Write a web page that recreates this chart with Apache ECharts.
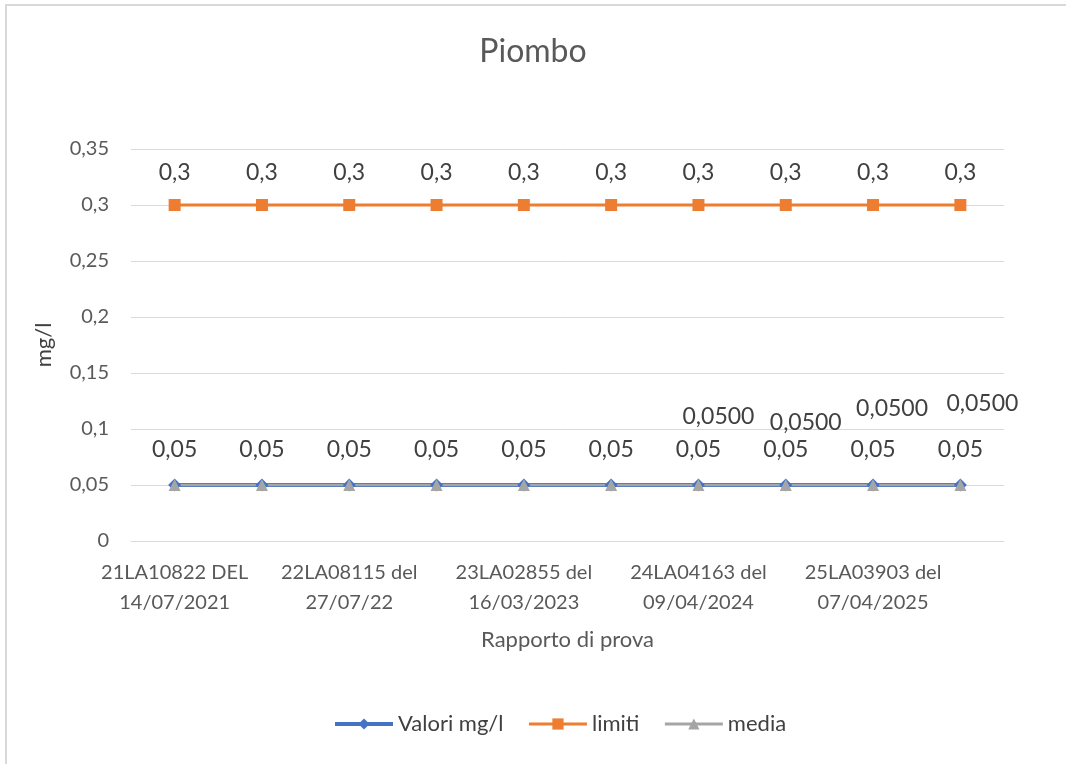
<!DOCTYPE html>
<html>
<head>
<meta charset="utf-8">
<script src="https://cdn.jsdelivr.net/npm/echarts@6/dist/echarts.min.js"></script>
<style>
  html, body { margin: 0; padding: 0; background: #fff; }
  #chart { width: 1066px; height: 764px; }
</style>
</head>
<body>
<div id="chart"></div>
<script>
// dati del grafico
const categorie = [
  '21LA10822 DEL\n14/07/2021', '',
  '22LA08115 del\n27/07/22', '',
  '23LA02855 del\n16/03/2023', '',
  '24LA04163 del\n09/04/2024', '',
  '25LA03903 del\n07/04/2025', ''
];
const valori = [0.05, 0.05, 0.05, 0.05, 0.05, 0.05, 0.05, 0.05, 0.05, 0.05];
const limiti = [0.3, 0.3, 0.3, 0.3, 0.3, 0.3, 0.3, 0.3, 0.3, 0.3];
const media = [0.05, 0.05, 0.05, 0.05, 0.05, 0.05, 0.05, 0.05, 0.05, 0.05];
const yTicks = [0, 0.05, 0.1, 0.15, 0.2, 0.25, 0.3, 0.35];

const FONT = 'Lato';
const virgola = (v, d) => (d == null ? String(+v.toFixed(2)) : v.toFixed(d)).replace('.', ',');

// etichette della media: solo gli ultimi quattro punti, spostate come nell'originale
const offsetMedia = { 6: [20, -68], 7: [20, -62], 8: [19, -76], 9: [22, -81] };

const option = {
  animation: false,
  textStyle: { fontFamily: FONT },
  title: {
    text: 'Piombo',
    left: 'center',
    top: 31,
    textStyle: { fontFamily: FONT, fontSize: 32, fontWeight: 'normal', color: '#595959' }
  },
  legend: {
    bottom: 24,
    left: 328,
    itemWidth: 58,
    itemHeight: 14,
    itemGap: 24,
    textStyle: { fontFamily: FONT, fontSize: 22, color: '#404040' },
    data: [
      { name: 'Valori mg/l', lineStyle: { width: 4 } },
      { name: 'limiti', lineStyle: { width: 3 } },
      { name: 'media', lineStyle: { width: 3 } }
    ]
  },
  grid: { left: 131, right: 62, top: 149, bottom: 223 },
  xAxis: {
    type: 'category',
    data: categorie,
    boundaryGap: true,
    name: 'Rapporto di prova',
    nameLocation: 'middle',
    nameGap: 88,
    nameTextStyle: { fontFamily: FONT, fontSize: 22, color: '#595959' },
    axisLine: { lineStyle: { color: '#d9d9d9', width: 1 } },
    axisTick: { show: false },
    axisLabel: {
      interval: 0,
      margin: 17,
      fontFamily: FONT,
      fontSize: 20,
      lineHeight: 30,
      color: '#595959'
    }
  },
  yAxis: {
    type: 'value',
    min: yTicks[0],
    max: yTicks[yTicks.length - 1],
    interval: 0.05,
    name: 'mg/l',
    nameLocation: 'middle',
    nameGap: 76,
    nameRotate: 90,
    nameTextStyle: { fontFamily: FONT, fontSize: 22, color: '#404040' },
    axisLine: { show: false },
    axisTick: { show: false },
    axisLabel: {
      margin: 22,
      fontFamily: FONT,
      fontSize: 20,
      color: '#595959',
      formatter: v => virgola(v)
    },
    splitLine: { lineStyle: { color: '#d9d9d9', width: 1 } }
  },
  series: [
    {
      name: 'Valori mg/l',
      type: 'line',
      data: valori,
      symbol: 'diamond',
      symbolSize: 13,
      itemStyle: { color: '#4472C4' },
      lineStyle: { color: '#4472C4', width: 4 },
      label: {
        show: true,
        position: 'top',
        distance: 17,
        fontFamily: FONT,
        fontSize: 23,
        color: '#404040',
        formatter: p => virgola(p.value)
      }
    },
    {
      name: 'limiti',
      type: 'line',
      data: limiti,
      symbol: 'rect',
      symbolSize: 12,
      itemStyle: { color: '#ED7D31' },
      lineStyle: { color: '#ED7D31', width: 3 },
      label: {
        show: true,
        position: 'top',
        distance: 15,
        fontFamily: FONT,
        fontSize: 23,
        color: '#404040',
        formatter: p => virgola(p.value)
      }
    },
    {
      name: 'media',
      type: 'line',
      data: media.map((v, i) => ({
        value: v,
        label: offsetMedia[i]
          ? { show: true, position: 'inside', offset: offsetMedia[i] }
          : { show: false }
      })),
      symbol: 'triangle',
      symbolSize: 12,
      itemStyle: { color: '#A5A5A5' },
      lineStyle: { color: '#A5A5A5', width: 2.5 },
      label: {
        fontFamily: FONT,
        fontSize: 23,
        color: '#404040',
        formatter: p => virgola(p.value, 4)
      }
    }
  ],
  graphic: [
    { type: 'line', shape: { x1: 6, y1: 5, x2: 6, y2: 764 }, style: { stroke: '#d9d9d9', lineWidth: 2 } },
    { type: 'line', shape: { x1: 5, y1: 5, x2: 1066, y2: 5 }, style: { stroke: '#d9d9d9', lineWidth: 2 } }
  ]
};

const chart = echarts.init(document.getElementById('chart'));
chart.setOption(option);
</script>
</body>
</html>
